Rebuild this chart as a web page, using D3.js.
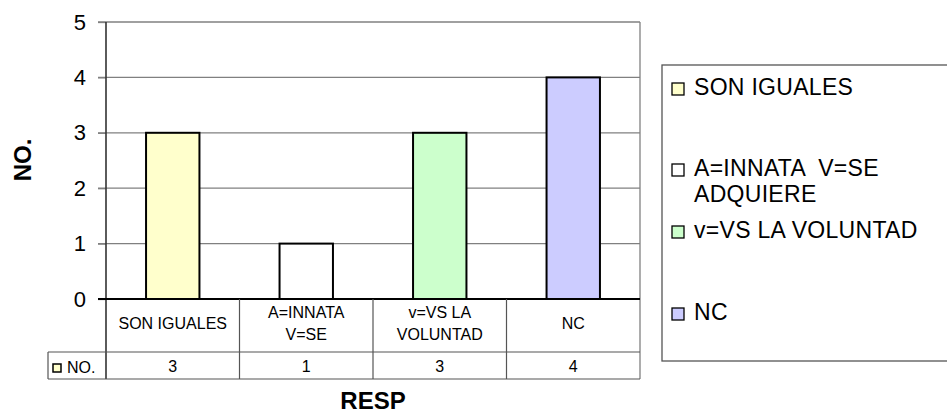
<!DOCTYPE html>
<html>
<head>
<meta charset="utf-8">
<script src="https://cdn.jsdelivr.net/npm/d3@7"></script>
<style>
  body { margin: 0; background: #fff; }
  text { font-family: "Liberation Sans", Arial, sans-serif; fill: #000; white-space: pre; }
</style>
</head>
<body>
<div id="chart"></div>
<script>
var categories = ["SON IGUALES", "A=INNATA  V=SE ADQUIERE", "v=VS LA VOLUNTAD", "NC"];
var tableLabels = [["SON IGUALES"], ["A=INNATA", "V=SE"], ["v=VS LA", "VOLUNTAD"], ["NC"]];
var legendLabels = [["SON IGUALES"], ["A=INNATA  V=SE", "ADQUIERE"], ["v=VS LA VOLUNTAD"], ["NC"]];
var values = [3, 1, 3, 4];
var colors = ["#FFFFCC", "#FFFFFF", "#CCFFCC", "#CCCCFF"];
var yTicks = [0, 1, 2, 3, 4, 5];
var seriesName = "NO.";

function drawChart(divName) {
    var W = 947, H = 414;
    var left = 106, right = 640, top = 22, bottom = 299;
    var row1 = 352, row2 = 379, tableLeft = 48;

    var svg = d3.select('#' + divName)
        .append('svg')
        .attr('width', W)
        .attr('height', H);

    var y = d3.scaleLinear().domain([0, 5]).range([bottom, top]);

    var x = d3.scaleBand()
        .domain(categories)
        .range([left, right])
        .paddingInner(0.6)
        .paddingOuter(0.3);

    var col = d3.scaleBand()
        .domain(categories)
        .range([left, right]);

    // gridlines
    svg.append("g").selectAll("line")
        .data(yTicks.filter(function (d) { return d > 0; }))
        .enter().append("line")
        .attr("x1", left - 8)
        .attr("x2", right)
        .attr("y1", function (d) { return y(d); })
        .attr("y2", function (d) { return y(d); })
        .style("stroke", "#808080")
        .style("stroke-width", "1.3px");

    // right border of plot
    svg.append("line")
        .attr("x1", right).attr("x2", right)
        .attr("y1", y(5)).attr("y2", row2)
        .style("stroke", "#808080")
        .style("stroke-width", "1.3px");

    // y axis
    var yAxis = svg.append("g")
        .attr("transform", "translate(" + left + ",0)")
        .call(d3.axisLeft(y).tickValues(yTicks).tickFormat(d3.format("d")).tickSize(8).tickPadding(12));
    yAxis.select(".domain").remove();
    yAxis.selectAll(".tick line").style("stroke", "#808080").style("stroke-width", "1.3px");
    yAxis.selectAll(".tick text")
        .style("font-family", "'Liberation Sans', Arial, sans-serif")
        .style("font-size", "22px")
        .attr("fill", "#000");

    // bars
    svg.append("g").selectAll("rect")
        .data(values)
        .enter().append("rect")
        .attr("x", function (d, i) { return x(categories[i]); })
        .attr("y", function (d) { return y(d); })
        .attr("width", x.bandwidth())
        .attr("height", function (d) { return y(0) - y(d); })
        .style("fill", function (d, i) { return colors[i]; })
        .style("stroke", "#000")
        .style("stroke-width", "2px");

    // left axis line, running through the table
    svg.append("line")
        .attr("x1", left).attr("x2", left)
        .attr("y1", y(5)).attr("y2", row2)
        .style("stroke", "#333")
        .style("stroke-width", "1.6px");

    // zero line
    svg.append("line")
        .attr("x1", left - 8).attr("x2", right)
        .attr("y1", y(0)).attr("y2", y(0))
        .style("stroke", "#000")
        .style("stroke-width", "2px");

    // data table
    var t = svg.append("g");
    [row1, row2].forEach(function (yy) {
        t.append("line")
            .attr("x1", tableLeft).attr("x2", right)
            .attr("y1", yy).attr("y2", yy)
            .style("stroke", "#555").style("stroke-width", "1.2px");
    });
    t.append("line")
        .attr("x1", tableLeft).attr("x2", tableLeft)
        .attr("y1", row1).attr("y2", row2)
        .style("stroke", "#555").style("stroke-width", "1.2px");
    t.selectAll(".sep")
        .data(categories.slice(1))
        .enter().append("line")
        .attr("x1", function (d) { return col(d); })
        .attr("x2", function (d) { return col(d); })
        .attr("y1", bottom).attr("y2", row2)
        .style("stroke", "#555").style("stroke-width", "1.2px");

    tableLabels.forEach(function (lines, i) {
        var cx = col(categories[i]) + col.bandwidth() / 2;
        var txt = t.append("text")
            .attr("text-anchor", "middle")
            .style("font-size", "16px");
        lines.forEach(function (l, j) {
            txt.append("tspan")
                .attr("x", cx)
                .attr("y", 329 + (j - (lines.length - 1) / 2) * 22)
                .text(l);
        });
        t.append("text")
            .attr("x", cx)
            .attr("y", 372)
            .attr("text-anchor", "middle")
            .style("font-size", "16px")
            .text(values[i]);
    });

    t.append("rect")
        .attr("x", 53).attr("y", 364)
        .attr("width", 8).attr("height", 8)
        .style("fill", colors[0])
        .style("stroke", "#000").style("stroke-width", "1.5px");
    t.append("text")
        .attr("x", 67).attr("y", 373)
        .style("font-size", "16px")
        .text(seriesName);

    // axis titles
    svg.append("text")
        .attr("transform", "translate(31,160) rotate(-90)")
        .attr("text-anchor", "middle")
        .style("font-size", "24px")
        .style("font-weight", "bold")
        .text("NO.");

    svg.append("text")
        .attr("x", (left + right) / 2)
        .attr("y", 409)
        .attr("text-anchor", "middle")
        .style("font-size", "24px")
        .style("font-weight", "bold")
        .text("RESP");

    // legend
    var lg = svg.append("g");
    lg.append("rect")
        .attr("x", 662).attr("y", 65)
        .attr("width", 400).attr("height", 296)
        .style("fill", "none")
        .style("stroke", "#555")
        .style("stroke-width", "1.3px");

    var legendBase = [95, 176, 238, 320];
    legendLabels.forEach(function (lines, i) {
        lg.append("rect")
            .attr("x", 672).attr("y", legendBase[i] - 12)
            .attr("width", 12).attr("height", 12)
            .style("fill", colors[i])
            .style("stroke", "#000")
            .style("stroke-width", "1.3px");
        var txt = lg.append("text")
            .style("font-size", "23px")
            .style("letter-spacing", "0.3px");
        lines.forEach(function (l, j) {
            txt.append("tspan")
                .attr("x", 694)
                .attr("y", legendBase[i] + j * 26)
                .text(l);
        });
    });
}

drawChart("chart");
</script>
</body>
</html>
